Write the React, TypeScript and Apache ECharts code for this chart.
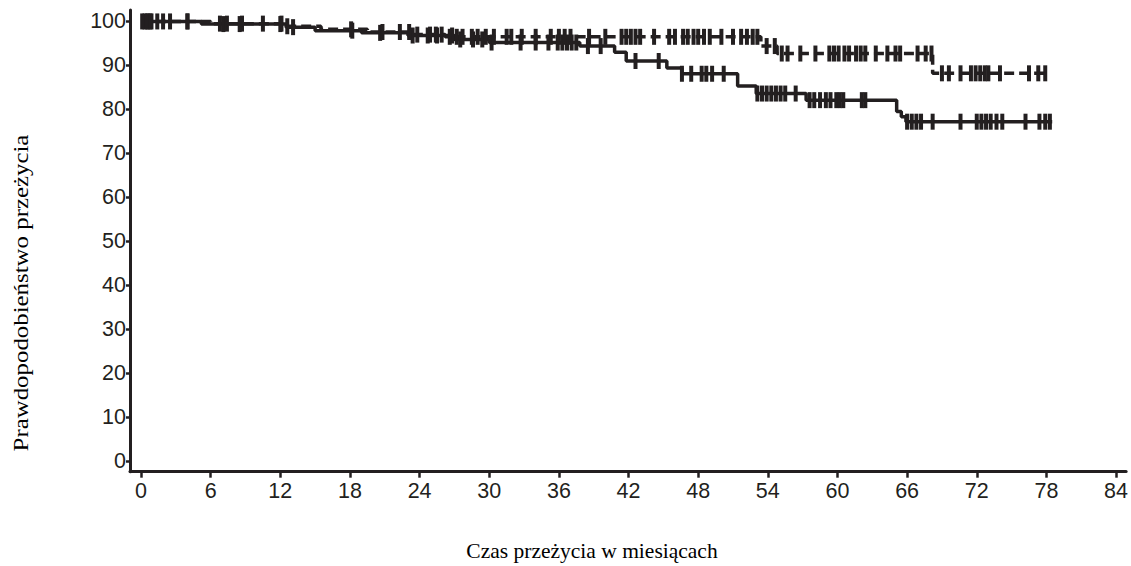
import React, { useEffect, useRef } from "react";
import * as echarts from "echarts";

const INK = "#231f20";

const xTicks = [0, 6, 12, 18, 24, 30, 36, 42, 48, 54, 60, 66, 72, 78, 84];
const yTicks = [0, 10, 20, 30, 40, 50, 60, 70, 80, 90, 100];

// Solid curve (Kaplan–Meier steps)
const solidTimes = [0, 5.2, 12.5, 15, 19, 23, 27, 30, 37.8, 40.8, 41.8, 45.3, 46.6, 51.4, 53.0, 57.3, 65.1, 65.5, 65.9, 78.5];
const solidValues = [100, 99.4, 98.7, 97.9, 97.4, 96.8, 95.9, 95.2, 94.4, 93.0, 91.0, 89.4, 88.1, 85.3, 83.6, 82.1, 79.5, 78.3, 77.2, 77.2];
const solidCensored = [0.3, 0.6, 0.9, 1.9, 4.0, 7.1, 8.5, 12.0, 13.1, 18.2, 20.6, 23.4, 24.7, 25.5, 26.8, 27.5, 28.6, 29.4, 30.2, 32.7, 34.0, 35.1, 35.9, 36.3, 36.7, 37.1, 37.5, 38.5, 39.6, 42.6, 44.6, 46.6, 47.4, 48.3, 48.7, 49.2, 50.2, 53.1, 53.5, 53.9, 54.3, 54.7, 55.1, 55.5, 56.4, 57.6, 58.0, 58.5, 59.0, 59.4, 59.9, 60.2, 60.5, 62.1, 62.4, 66.0, 66.4, 66.8, 67.2, 68.2, 70.6, 72.0, 72.4, 72.8, 73.2, 73.7, 74.2, 76.2, 77.4, 77.9, 78.3];

// Dashed curve
const dashedTimes = [0, 6, 12.2, 15.5, 19.5, 23.5, 26.2, 53.4, 54.8, 68.2, 78.2];
const dashedValues = [100, 99.5, 98.9, 98.2, 97.6, 97.0, 96.5, 94.4, 92.7, 88.2, 88.2];
const dashedCensored = [0.1, 0.5, 0.8, 1.4, 2.5, 4.0, 6.8, 7.4, 8.7, 10.5, 12.1, 12.6, 18.1, 20.8, 22.3, 23.1, 23.8, 24.9, 25.4, 25.9, 26.6, 27.2, 27.7, 28.5, 29.0, 29.7, 30.4, 31.5, 31.9, 32.8, 34.0, 35.3, 36.0, 36.5, 37.0, 38.6, 40.0, 41.4, 41.8, 42.2, 42.6, 43.0, 44.2, 45.5, 46.0, 46.7, 47.1, 47.6, 48.0, 48.5, 49.0, 50.0, 51.0, 51.7, 52.2, 52.7, 53.1, 53.9, 54.6, 55.2, 55.7, 56.8, 58.1, 59.3, 59.7, 60.1, 60.6, 61.0, 61.6, 62.0, 62.4, 63.3, 64.3, 65.0, 65.4, 66.9, 67.6, 68.1, 69.0, 69.6, 70.6, 71.5, 71.9, 72.3, 72.7, 73.0, 74.0, 76.5, 77.3, 77.9];

const survAt = (times: number[], values: number[], t: number) => {
  let v = values[0];
  for (let i = 0; i < times.length; i++) {
    if (times[i] <= t) v = values[i];
  }
  return v;
};

export default function App() {
  const ref = useRef<HTMLDivElement>(null);
  useEffect(() => {
    if (!ref.current) return;
    const chart = echarts.init(ref.current, undefined, { renderer: "svg" });
    const labelStyle = {
      fontFamily: "Liberation Sans",
      fontSize: 21.5,
      color: INK,
    };
    chart.setOption({
      animation: false,
      backgroundColor: "#ffffff",
      grid: { left: 130, right: 3, top: 10, bottom: 94.3, containLabel: false },
      xAxis: {
        type: "value",
        min: -0.95,
        max: 84.87,
        axisLine: { show: true, onZero: false, lineStyle: { color: INK, width: 3 } },
        axisTick: { show: true, length: 6, customValues: xTicks, lineStyle: { color: INK, width: 2.5 } },
        axisLabel: { ...labelStyle, margin: 8, customValues: xTicks },
        splitLine: { show: false },
      },
      yAxis: {
        type: "value",
        min: -2.4,
        max: 102.6,
        axisLine: { show: true, onZero: false, lineStyle: { color: INK, width: 3 } },
        axisTick: { show: true, length: 4, customValues: yTicks, lineStyle: { color: INK, width: 2.5 } },
        axisLabel: { ...labelStyle, margin: 4, customValues: yTicks },
        splitLine: { show: false },
      },
      graphic: [
        {
          type: "text",
          x: 592,
          y: 551,
          style: {
            text: "Czas przeżycia w miesiącach",
            font: "21.5px 'Liberation Serif'",
            fill: "#000",
            textAlign: "center",
            textVerticalAlign: "middle",
          },
        },
        {
          type: "text",
          x: 21,
          y: 293,
          rotation: Math.PI / 2,
          scaleX: 1.13,
          style: {
            text: "Prawdopodobieństwo przeżycia",
            font: "22px 'Liberation Serif'",
            fill: "#000",
            textAlign: "center",
            textVerticalAlign: "middle",
          },
        },
      ],
      series: [
        {
          type: "line",
          step: "end",
          symbol: "none",
          data: solidTimes.map((t, i) => [t, solidValues[i]]),
          lineStyle: { color: INK, width: 3.5, type: "solid" },
          z: 3,
        },
        {
          type: "line",
          step: "end",
          symbol: "none",
          data: dashedTimes.map((t, i) => [t, dashedValues[i]]),
          lineStyle: { color: INK, width: 3.5, type: [10, 5] },
          z: 3,
        },
        {
          type: "scatter",
          symbol: "rect",
          symbolSize: [4, 16],
          itemStyle: { color: INK, opacity: 1 },
          data: solidCensored.map((t) => [t, survAt(solidTimes, solidValues, t)]),
          z: 4,
        },
        {
          type: "scatter",
          symbol: "rect",
          symbolSize: [4, 16],
          itemStyle: { color: INK, opacity: 1 },
          data: dashedCensored.map((t) => [t, survAt(dashedTimes, dashedValues, t)]),
          z: 4,
        },
      ],
    });
    return () => chart.dispose();
  }, []);
  return (
    <div
      ref={ref}
      style={{ position: "fixed", left: 0, top: 0, width: "1131px", height: "566px" }}
    />
  );
}
